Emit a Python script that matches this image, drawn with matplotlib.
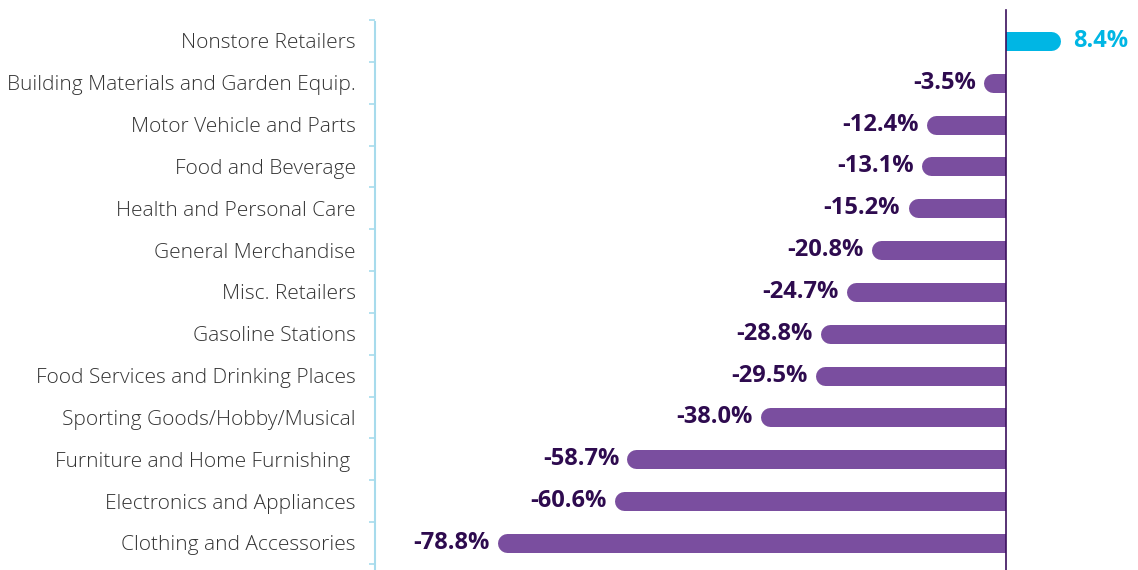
import matplotlib.pyplot as plt
from matplotlib.patches import Rectangle

categories = ['Nonstore Retailers', 'Building Materials and Garden Equip.', 'Motor Vehicle and Parts',
              'Food and Beverage', 'Health and Personal Care', 'General Merchandise', 'Misc. Retailers',
              'Gasoline Stations', 'Food Services and Drinking Places', 'Sporting Goods/Hobby/Musical',
              'Furniture and Home Furnishing ', 'Electronics and Appliances', 'Clothing and Accessories']
values = [8.4, -3.5, -12.4, -13.1, -15.2, -20.8, -24.7, -28.8, -29.5, -38.0, -58.7, -60.6, -78.8]

plt.rcParams['font.family'] = ['Open Sans', 'DejaVu Sans']

fig = plt.figure(figsize=(11.38, 5.70), dpi=100)
ax = fig.add_axes([375/1138, 0, 1 - 375/1138, 1])

# pixel layout: row centres at 41 + 41.83*i, zero at x=1006
row_px = 41.83
xmin, xmax = -97.7, 20.4
ymax = -41 / row_px
ymin = (570 - 41) / row_px
ax.set_xlim(xmin, xmax)
ax.set_ylim(ymin, ymax)

px_per_unit = (1138 - 375) / (xmax - xmin)
bar_px = 19
r = bar_px / 2 / px_per_unit

purple = '#7a4e9f'
blue = '#00b6e4'
for i, v in enumerate(values):
    c = blue if v > 0 else purple
    sign = 1 if v > 0 else -1
    end = v - sign * r
    # round cap on the outer end only: thick line clipped at zero
    ln, = ax.plot([end, -sign * 3], [i, i], color=c, linewidth=bar_px * 0.72, solid_capstyle='round')
    x0 = v - 2 if v < 0 else 0
    clip = Rectangle((x0, i - 1), abs(v) + 2, 2, transform=ax.transData)
    ln.set_clip_path(clip)
    txt = f'{v:.1f}%'
    if v > 0:
        ax.text(v + 2.0, i, txt, ha='left', va='center', fontsize=17, fontweight='bold', color=blue)
    else:
        ax.text(v - 1.2, i, txt, ha='right', va='center', fontsize=17, fontweight='bold', color='#2e0b4f')

ax.plot([0, 0], [-0.74, ymin], color='#3b0f5c', linewidth=1.2)

for s in ['top', 'right', 'bottom']:
    ax.spines[s].set_visible(False)
ax.spines['left'].set_color('#a7dbec')
ax.spines['left'].set_linewidth(1.5)
ax.spines['left'].set_bounds(-0.45, ymin)

ax.set_xticks([])
ax.set_yticks(range(len(categories)))
ax.set_yticklabels(categories, fontsize=15, color='#333333', fontweight='light')
ax.set_yticks([i - 0.5 for i in range(len(categories) + 1)], minor=True)
ax.tick_params(axis='y', which='major', length=0, pad=14)
ax.tick_params(axis='y', which='minor', length=4, width=1.2, color='#a7dbec')

fig.savefig('out.png', dpi=100)
